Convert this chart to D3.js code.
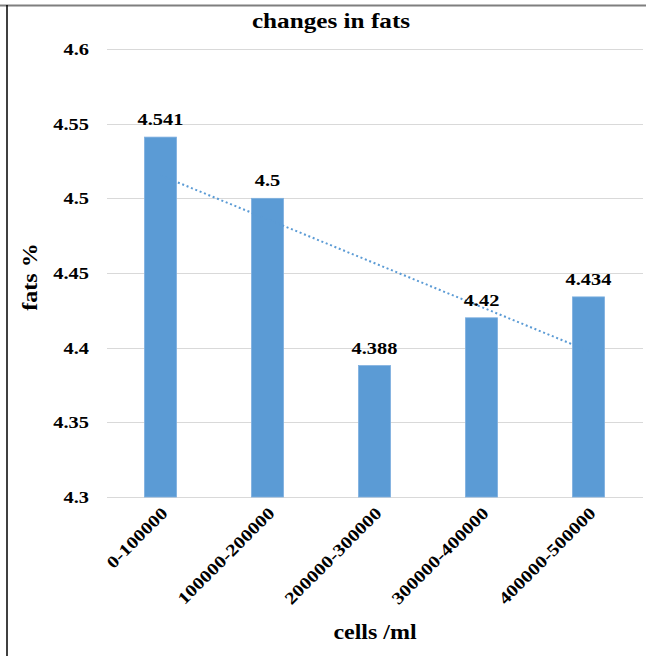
<!DOCTYPE html>
<html>
<head>
<meta charset="utf-8">
<script src="https://cdn.jsdelivr.net/npm/d3@7"></script>
<style>
  html, body { margin: 0; padding: 0; background: #fff; }
  svg { display: block; }
  text { font-family: "Liberation Serif", "Times New Roman", serif; font-weight: bold; fill: #000; }
</style>
</head>
<body>
<script>
const categories = ["0-100000", "100000-200000", "200000-300000", "300000-400000", "400000-500000"];
const fats = [4.541, 4.5, 4.388, 4.42, 4.434];
const valueLabels = ["4.541", "4.5", "4.388", "4.42", "4.434"];
const yTicks = [4.3, 4.35, 4.4, 4.45, 4.5, 4.55, 4.6];
const yTickLabels = ["4.3", "4.35", "4.4", "4.45", "4.5", "4.55", "4.6"];
const titleText = "changes in fats";
const xTitle = "cells /ml";
const yTitle = "fats %";

const W = 646, H = 656;
const SX = 1.2; // horizontal glyph stretch of the original text

const svg = d3.select("body").append("svg").attr("width", W).attr("height", H);

const x = d3.scaleBand().domain(categories).range([107, 642]).paddingInner(0.7).paddingOuter(0.35);
const y = d3.scaleLinear().domain([4.3, 4.6]).range([497, 49]);

// frame
svg.append("line").attr("x1", 0).attr("x2", W).attr("y1", 5.5).attr("y2", 5.5)
  .attr("stroke", "#7f7f7f").attr("stroke-width", 2);
svg.append("line").attr("x1", 7).attr("x2", 7).attr("y1", 5).attr("y2", H)
  .attr("stroke", "#000").attr("stroke-width", 1.5);

// gridlines
svg.append("g").selectAll("line").data(yTicks).join("line")
  .attr("x1", 107).attr("x2", 643)
  .attr("y1", d => Math.round(y(d)) + 0.5).attr("y2", d => Math.round(y(d)) + 0.5)
  .attr("stroke", "#d9d9d9").attr("stroke-width", 1.2);

// y tick labels
svg.append("g").selectAll("text").data(yTicks).join("text")
  .attr("transform", d => `translate(89,${y(d)}) scale(${SX},1)`)
  .attr("text-anchor", "end").attr("dy", "0.35em")
  .style("font-size", "17px")
  .text((d, i) => yTickLabels[i]);

// bars
svg.append("g").selectAll("rect").data(fats).join("rect")
  .attr("x", (d, i) => x(categories[i]))
  .attr("width", x.bandwidth())
  .attr("y", d => y(d))
  .attr("height", d => y(4.3) - y(d))
  .attr("fill", "#5b9bd5")
  .attr("stroke", "#7fb0df").attr("stroke-width", 0.8);

// linear trendline (least squares over category index)
const n = fats.length;
const idx = d3.range(1, n + 1);
const mx = d3.mean(idx), my = d3.mean(fats);
const slope = d3.sum(idx.map((xi, i) => (xi - mx) * (fats[i] - my))) / d3.sum(idx.map(xi => (xi - mx) ** 2));
const icpt = my - slope * mx;
const cx = i => x(categories[i]) + x.bandwidth() / 2;
svg.append("line")
  .attr("x1", cx(0)).attr("y1", y(icpt + slope * 1))
  .attr("x2", cx(n - 1)).attr("y2", y(icpt + slope * n))
  .attr("stroke", "#5b9bd5").attr("stroke-width", 2)
  .attr("stroke-dasharray", "2,2.7");

// value labels
svg.append("g").selectAll("text").data(fats).join("text")
  .attr("transform", (d, i) => `translate(${cx(i)},${y(d) - 12}) scale(${SX},1)`)
  .attr("text-anchor", "middle")
  .style("font-size", "17px")
  .text((d, i) => valueLabels[i]);

// x tick labels rotated
svg.append("g").selectAll("text").data(categories).join("text")
  .attr("transform", (d, i) => `translate(${cx(i) + 4},${510}) rotate(-45) scale(${SX},1)`)
  .attr("text-anchor", "end").attr("dy", "0.35em")
  .style("font-size", "17px")
  .text(d => d);

// title
svg.append("text")
  .attr("transform", `translate(331,28) scale(${SX},1)`)
  .attr("text-anchor", "middle").style("font-size", "21px")
  .text(titleText);

// axis titles
svg.append("text")
  .attr("transform", `translate(375,639) scale(${SX},1)`)
  .attr("text-anchor", "middle").style("font-size", "20px")
  .text(xTitle);

svg.append("text")
  .attr("transform", `translate(37,277) rotate(-90) scale(${SX},1)`)
  .attr("text-anchor", "middle").style("font-size", "20px")
  .text(yTitle);
</script>
</body>
</html>
